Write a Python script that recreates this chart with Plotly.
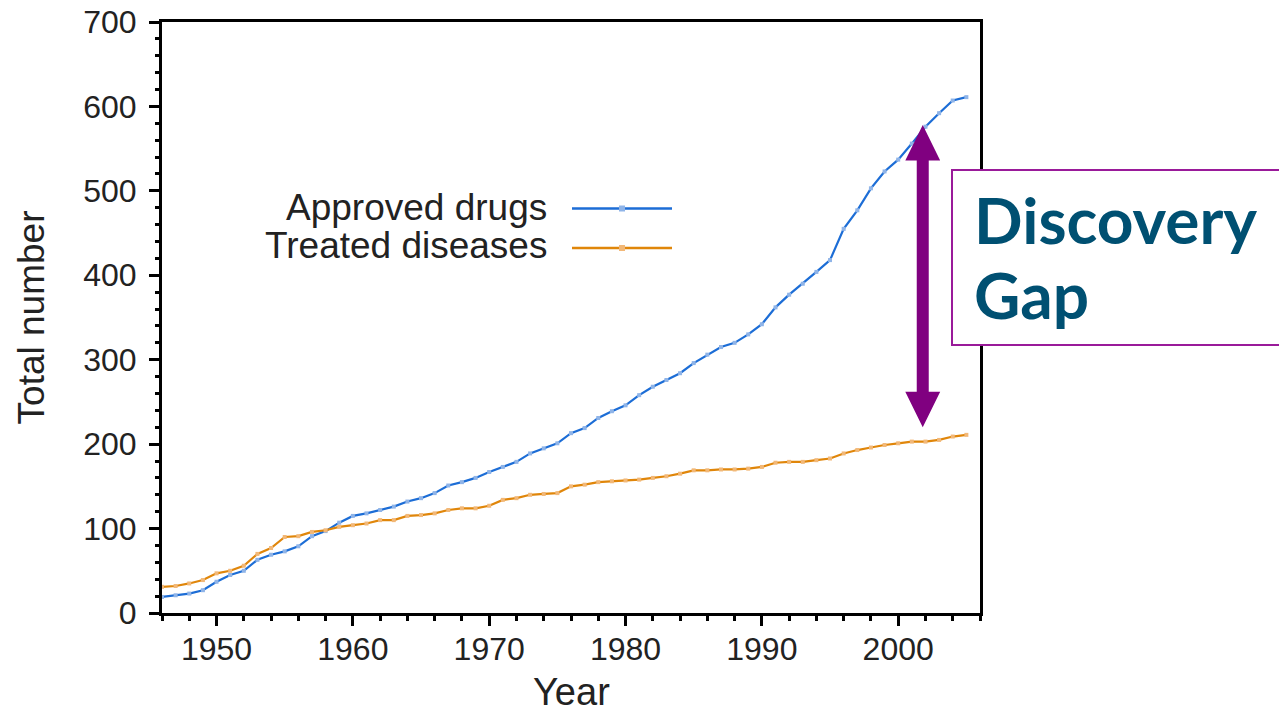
import plotly.graph_objects as go

# ---------------- data ----------------
years = list(range(1946, 2006))
approved_drugs = [19, 21, 23, 27, 37, 45, 50, 63, 69, 73,
                  79, 91, 97, 107, 115, 118, 122, 126, 132, 136,
                  142, 151, 155, 160, 167, 173, 179, 189, 195, 201,
                  213, 219, 231, 239, 246, 258, 268, 276, 284, 296,
                  306, 315, 320, 330, 342, 362, 377, 390, 404, 418,
                  455, 477, 503, 523, 537, 556, 576, 592, 607, 611]
treated_diseases = [31, 32, 35, 39, 47, 50, 56, 70, 77, 90,
                    91, 96, 98, 102, 104, 106, 110, 110, 115, 116,
                    118, 122, 124, 124, 127, 134, 136, 140, 141, 142,
                    150, 152, 155, 156, 157, 158, 160, 162, 165, 169,
                    169, 170, 170, 171, 173, 178, 179, 179, 181, 183,
                    189, 193, 196, 199, 201, 203, 203, 205, 209, 211]
series_names = ["Approved drugs", "Treated diseases"]
x_tick_vals = [1950, 1960, 1970, 1980, 1990, 2000]
y_tick_vals = [0, 100, 200, 300, 400, 500, 600, 700]

# gap arrow (data units)
gap_year = 2001.8
gap_top = 578
gap_bottom = 220

# ---------------- styling ----------------
W, H = 1279, 716
ML, MR, MT, MB = 162, 299, 22, 103
BLUE, BLUE_M = "#1c6dd6", "#8fb4e8"
ORANGE, ORANGE_M = "#e0860a", "#f2b878"
PURPLE = "#800080"
TEAL = "#005072"
TXT = "#222222"
FONT = "Liberation Sans, Arial, sans-serif"


def pxx(px):
    return (px - ML) / (W - ML - MR)


def pxy(py):
    return (H - MB - py) / (H - MT - MB)


fig = go.Figure()
fig.add_trace(go.Scatter(x=years, y=approved_drugs, name=series_names[0],
                         mode="lines+markers",
                         line=dict(color=BLUE, width=2.2),
                         marker=dict(symbol="square", size=4, color=BLUE_M),
                         cliponaxis=False))
fig.add_trace(go.Scatter(x=years, y=treated_diseases, name=series_names[1],
                         mode="lines+markers",
                         line=dict(color=ORANGE, width=2.2),
                         marker=dict(symbol="square", size=4, color=ORANGE_M),
                         cliponaxis=False))

axis_common = dict(showline=True, linecolor="black", linewidth=3, mirror=True,
                   ticks="outside", ticklen=10, tickwidth=3, tickcolor="black",
                   showgrid=False, zeroline=False, automargin=False,
                   tickfont=dict(family=FONT, size=32, color=TXT))

fig.update_xaxes(range=[1946, 2006], tickvals=x_tick_vals,
                 ticklabelstandoff=-4,
                 minor=dict(ticks="outside", dtick=2, tick0=1946, ticklen=5,
                            tickwidth=3, tickcolor="black"),
                 **axis_common)
fig.update_yaxes(range=[0, 700], tickvals=y_tick_vals,
                 ticklabelstandoff=6,
                 minor=dict(ticks="outside", dtick=20, tick0=0, ticklen=4,
                            tickwidth=3, tickcolor="black"),
                 title=dict(text="Total number", font=dict(family=FONT, size=37, color=TXT),
                            standoff=28),
                 **axis_common)

shapes = []
# double-headed gap arrow
hw_shaft, hw_head = 0.44, 1.28
head_h = 42
p = [
    (gap_year - hw_shaft, gap_top - head_h), (gap_year - hw_head, gap_top - head_h),
    (gap_year, gap_top), (gap_year + hw_head, gap_top - head_h),
    (gap_year + hw_shaft, gap_top - head_h), (gap_year + hw_shaft, gap_bottom + head_h),
    (gap_year + hw_head, gap_bottom + head_h), (gap_year, gap_bottom),
    (gap_year - hw_head, gap_bottom + head_h), (gap_year - hw_shaft, gap_bottom + head_h),
]
path = "M " + " L ".join(f"{a},{b}" for a, b in p) + " Z"
shapes.append(dict(type="path", path=path, xref="x", yref="y",
                   fillcolor=PURPLE, line=dict(width=0), layer="above"))
# Discovery Gap box
shapes.append(dict(type="rect", xref="paper", yref="paper",
                   x0=pxx(952), x1=pxx(1290), y0=pxy(345), y1=pxy(170),
                   line=dict(color="#9a1a9a", width=2), fillcolor="white",
                   layer="above"))
# manual legend samples
for yy, col, mcol in [(208.5, BLUE, BLUE_M), (248, ORANGE, ORANGE_M)]:
    shapes.append(dict(type="line", xref="paper", yref="paper",
                       x0=pxx(572), x1=pxx(672), y0=pxy(yy), y1=pxy(yy),
                       line=dict(color=col, width=2.5), layer="above"))
    shapes.append(dict(type="rect", xref="paper", yref="paper",
                       x0=pxx(619), x1=pxx(625), y0=pxy(yy + 3), y1=pxy(yy - 3),
                       line=dict(width=0), fillcolor=mcol, layer="above"))

annotations = []
# x-axis title placed at the bottom edge, fully inside the figure
annotations.append(dict(text="Year", xref="paper", yref="paper",
                        x=0.5, y=pxy(715), xanchor="center", yanchor="bottom",
                        showarrow=False,
                        font=dict(family=FONT, size=38, color=TXT)))
for txt, yy in [(series_names[0], 207), (series_names[1], 245)]:
    annotations.append(dict(text=txt, xref="paper", yref="paper",
                            x=pxx(549), y=pxy(yy), xanchor="right", yanchor="middle",
                            showarrow=False,
                            font=dict(family=FONT, size=37, color=TXT)))
for txt, yy in [("Discovery", 219), ("Gap", 294)]:
    annotations.append(dict(text=txt, xref="paper", yref="paper",
                            x=pxx(972), y=pxy(yy), xanchor="left", yanchor="middle",
                            showarrow=False,
                            font=dict(family="Lato, sans-serif", size=64,
                                      color=TEAL, weight="bold")))

fig.update_layout(width=W, height=H, autosize=False,
                  margin=dict(l=ML, r=MR, t=MT, b=MB, pad=0, autoexpand=False),
                  paper_bgcolor="white", plot_bgcolor="white",
                  showlegend=False, shapes=shapes, annotations=annotations)

fig.write_html("out.html", config={"displayModeBar": False},
               post_script="document.body.style.margin='0';")
